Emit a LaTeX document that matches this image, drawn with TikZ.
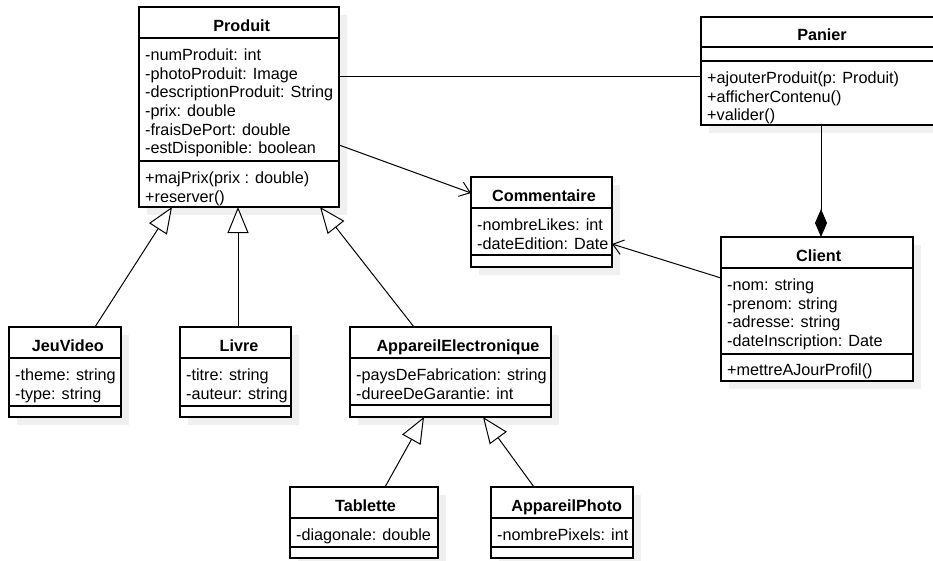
\documentclass[tikz,border=0pt]{standalone}
\usepackage{fontspec}
\setmainfont{Liberation Sans}
\usetikzlibrary{arrows.meta,calc}

% strut giving every member line the same height and depth
\newcommand\ls{\rule[-3.75pt]{0pt}{18.65pt}}

\tikzset{
  umlfont/.style={font=\fontsize{16.2}{18.65}\selectfont},
  classframe/.style={draw, line width=1.1pt, fill=white, inner sep=0pt, outer sep=0pt, anchor=north west},
  shadowbox/.style={fill=black!6},
  divider/.style={line width=1.1pt},
  titletext/.style={umlfont, font=\fontsize{16.2}{18.65}\selectfont\bfseries, inner sep=0pt, anchor=base},
  membertext/.style={umlfont, align=left, inner sep=0pt, anchor=north west},
  assoc/.style={line width=1pt},
  navigable/.style={line width=1pt, -{Straight Barb[length=10pt,width=15pt,line width=1pt]}},
  inherits/.style={line width=1pt, -{Triangle[length=26pt,width=21pt,fill=white,line width=1pt]}},
  composition/.style={line width=1pt, -{Diamond[length=28pt,width=12pt,fill=black]}},
}

% class frame: name, left, top, right, bottom, header bottom, member divider, title x, title
\newcommand\umlclass[9]{%
  \fill[shadowbox] (#2+8,#3+8) rectangle (#4+8,#5+8);
  \node[classframe, minimum width={#4-#2}, minimum height={#5-#3}] (#1) at (#2,#3) {};
  \draw[divider] (#2,#6) -- (#4,#6);
  \draw[divider] (#2,#7) -- (#4,#7);
  \node[titletext] (#1-title) at (#8,{(#3+#6)/2+8.8}) {#9};
}

\begin{document}
\begin{tikzpicture}[x=1pt,y=-1pt]
\useasboundingbox (0,0) rectangle (933,560);
\clip (0,0) rectangle (933,560);

% classes
\umlclass{produit}{139}{7}{339}{207}{38}{161}{241.7}{Produit}
\node[membertext] (produit-attrs) at (145,45.4) {\ls-numProduit: int\\\ls-photoProduit: Image\\\ls-descriptionProduit: String\\\ls-prix: double\\\ls-fraisDePort: double\\\ls-estDisponible: boolean};
\node[membertext] (produit-ops) at (145,168.4) {\ls+majPrix(prix : double)\\\ls+reserver()};

\umlclass{panier}{701}{17}{938}{125}{47}{61}{822}{Panier}
\node[membertext] (panier-ops) at (707,68.4) {\ls+ajouterProduit(p: Produit)\\\ls+afficherContenu()\\\ls+valider()};

\umlclass{commentaire}{471}{177}{612}{267}{208}{255}{544}{Commentaire}
\node[membertext] (commentaire-attrs) at (477,215.4) {\ls-nombreLikes: int\\\ls-dateEdition: Date};

\umlclass{client}{721}{237}{913}{381}{268}{354}{818.7}{Client}
\node[membertext] (client-attrs) at (727,275.4) {\ls-nom: string\\\ls-prenom: string\\\ls-adresse: string\\\ls-dateInscription: Date};
\node[membertext] (client-ops) at (727,360) {\ls+mettreAJourProfil()};

\umlclass{jeuvideo}{9}{327}{121}{417}{358}{406}{67.8}{JeuVideo}
\node[membertext] (jeuvideo-attrs) at (15,365.4) {\ls-theme: string\\\ls-type: string};

\umlclass{livre}{180}{327}{291}{417}{358}{406}{239}{Livre}
\node[membertext] (livre-attrs) at (186,365.4) {\ls-titre: string\\\ls-auteur: string};

\umlclass{appareil}{350}{327}{551}{417}{358}{405}{458}{AppareilElectronique}
\node[membertext] (appareil-attrs) at (356,365.4) {\ls-paysDeFabrication: string\\\ls-dureeDeGarantie: int};

\umlclass{tablette}{290}{487}{438}{558}{518}{547}{365.5}{Tablette}
\node[membertext] (tablette-attrs) at (296,525.4) {\ls-diagonale: double};

\umlclass{photo}{491}{487}{633}{558}{518}{547}{566.7}{AppareilPhoto}
\node[membertext] (photo-attrs) at (497,525.4) {\ls-nombrePixels: int};

% associations
\draw[assoc] ($(produit.north east)+(0,69)$) -- ($(panier.north west)+(0,59)$);
\draw[navigable] ($(produit.north east)+(0,138)$) -- ($(commentaire.north west)+(0,16)$);
\draw[navigable] ($(client.north west)+(0,41)$) -- ($(commentaire.north east)+(0,67)$);
\draw[composition] ($(panier.south west)+(120,0)$) -- ($(client.north west)+(100,0)$);

% generalizations
\draw[inherits] ($(jeuvideo.north west)+(86,0)$) -- ($(produit.south west)+(33,0)$);
\draw[inherits] ($(livre.north west)+(58,0)$) -- ($(produit.south west)+(99,0)$);
\draw[inherits] ($(appareil.north west)+(64,0)$) -- ($(produit.south west)+(181,0)$);
\draw[inherits] ($(tablette.north west)+(95,0)$) -- ($(appareil.south west)+(74,0)$);
\draw[inherits] ($(photo.north west)+(43,0)$) -- ($(appareil.south west)+(133,0)$);
\end{tikzpicture}
\end{document}
